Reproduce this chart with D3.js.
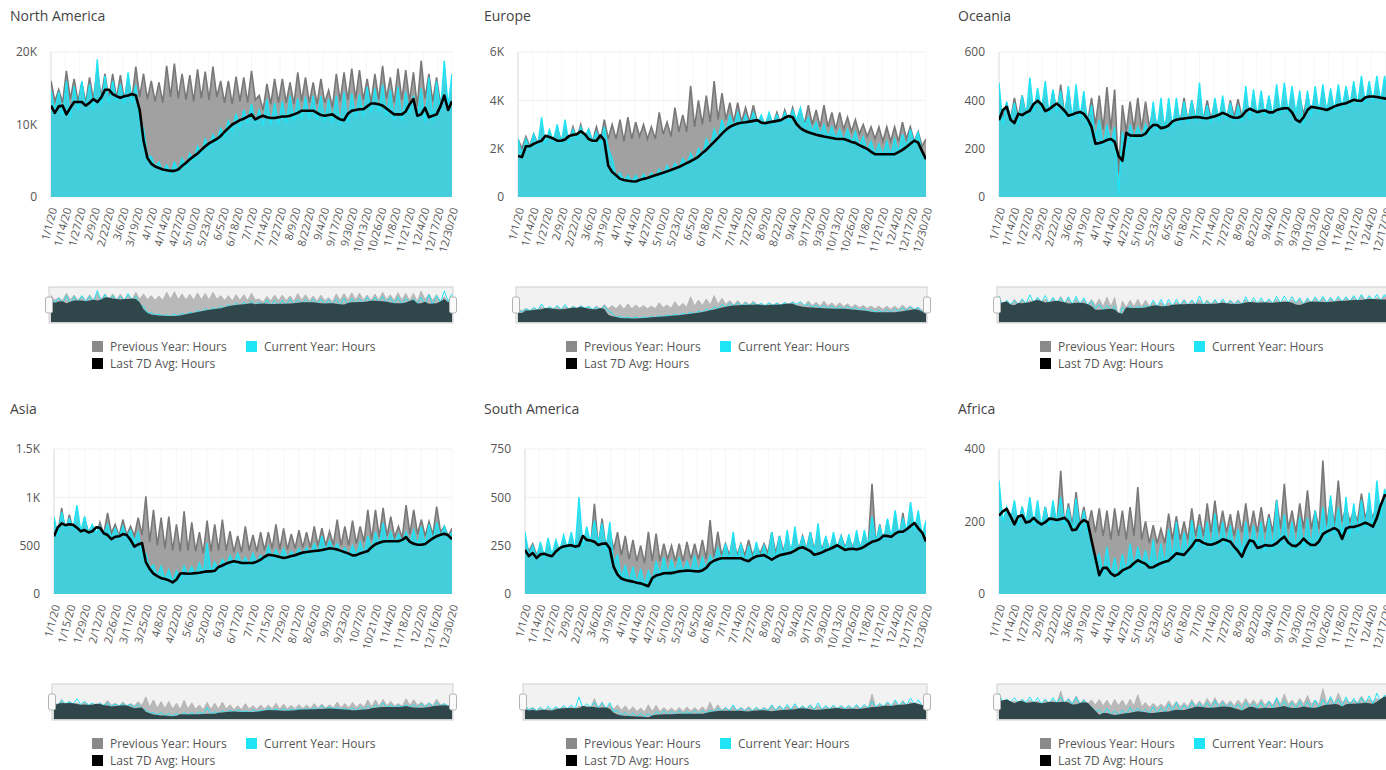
<!DOCTYPE html>
<html>
<head>
<meta charset="utf-8">
<script src="https://cdnjs.cloudflare.com/ajax/libs/d3/7.8.5/d3.min.js"></script>
<style>
  body { margin: 0; background: #fff; overflow: hidden; }
  svg { display: block; font-family: "Open Sans", sans-serif; }
</style>
</head>
<body>
<script>
// category labels shown on the x axis (every 13th / 14th day)
const ticks13 = ["1/1/20","1/14/20","1/27/20","2/9/20","2/22/20","3/6/20","3/19/20","4/1/20","4/14/20","4/27/20",
  "5/10/20","5/23/20","6/5/20","6/18/20","7/1/20","7/14/20","7/27/20","8/9/20","8/22/20","9/4/20","9/17/20",
  "9/30/20","10/13/20","10/26/20","11/8/20","11/21/20","12/4/20","12/17/20","12/30/20"];
const ticks14 = ["1/1/20","1/15/20","1/29/20","2/12/20","2/26/20","3/11/20","3/25/20","4/8/20","4/22/20","5/6/20",
  "5/20/20","6/3/20","6/17/20","7/1/20","7/15/20","7/29/20","8/12/20","8/26/20","9/9/20","9/23/20","10/7/20",
  "10/21/20","11/4/20","11/18/20","12/2/20","12/16/20","12/30/20"];

const legendLabels = ["Previous Year: Hours", "Current Year: Hours", "Last 7D Avg: Hours"];

// All series are read every 3.5 days (day 0 .. 364).
// Previous / current year alternate weekly high and trough.

// North America, in thousands of hours
const naPrev = [
  16.0,13.2, 14.8,13.0, 17.4,13.5, 16.3,13.2,  15.8,13.0, 16.5,13.4, 17.7,13.8, 17.0,13.5,
  17.0,13.6, 16.8,13.4, 16.5,13.5, 18.0,13.8,  17.0,13.5, 16.0,13.2, 15.8,13.0, 18.1,13.8,
  18.4,13.6, 17.0,13.4, 16.8,13.2, 17.6,13.6,  17.3,13.4, 18.0,13.8, 16.0,13.0, 16.0,12.8,
  16.6,13.2, 16.5,13.0, 17.4,13.4, 14.0,12.0,  15.6,12.8, 16.3,13.0, 16.3,13.0, 15.8,12.8,
  17.2,13.2, 16.5,13.0, 15.8,12.8, 16.3,13.0,  14.7,12.4, 17.0,13.2, 17.2,13.4, 17.7,13.5,
  17.5,13.4, 16.3,13.0, 17.0,13.4, 18.1,13.6,  16.5,13.0, 17.7,13.4, 17.5,13.2, 17.2,12.5,
  18.8,13.6, 17.0,13.2, 16.5,12.8, 15.5,12.0,  14.0];
const naCur = [
  14.7,11.8, 14.5,11.2, 16.0,11.0, 15.3,12.0,  16.0,12.2, 15.6,12.0, 19.0,12.5, 16.7,13.0,
  16.0,13.2, 15.6,12.9, 17.2,13.0, 15.5,10.5,  9.5,5.6, 5.6,4.1, 4.8,3.5, 4.4,3.3,
  4.8,3.6, 5.3,4.2, 6.0,5.0, 7.0,5.9,  8.0,6.7, 8.6,7.6, 9.5,8.4, 10.5,9.1,
  11.5,9.6, 12.0,10.2, 12.8,10.2, 12.0,9.9,  13.5,10.0, 13.0,10.0, 13.2,10.2, 14.0,10.5,
  13.6,10.8, 13.8,10.9, 14.0,10.7, 13.9,10.4,  13.5,10.2, 14.0,9.9, 14.5,10.2, 14.3,11.0,
  14.2,11.2, 15.2,11.6, 15.0,11.7, 15.5,11.2,  14.8,10.6, 15.2,10.5, 14.5,11.5, 14.0,11.0,
  15.0,10.3, 16.5,10.5, 16.0,11.8, 18.8,12.5,  17.0];
const naAvg = [
  12.6, 11.6, 12.5, 12.6, 11.4, 12.3, 13.1, 13.1,  13.1, 12.6, 13.0, 13.5, 13.1, 13.7, 14.8, 14.8,
  14.2, 13.9, 13.7, 13.9, 14.0, 14.2, 14.0, 12.0,  7.8, 5.4, 4.6, 4.2, 4.0, 3.8, 3.7, 3.6,
  3.6, 3.8, 4.3, 4.7, 5.2, 5.6, 6.0, 6.5,  7.0, 7.4, 7.7, 8.0, 8.4, 9.0, 9.5, 10.0,
  10.3, 10.6, 10.8, 11.1, 11.4, 10.7, 11.0, 11.2,  11.0, 10.9, 10.9, 11.0, 11.1, 11.1, 11.2, 11.4,
  11.6, 11.9, 11.9, 11.9, 11.9, 11.6, 11.3, 11.2,  11.3, 11.4, 11.0, 10.7, 10.6, 11.5, 11.9, 12.0,
  12.1, 12.1, 12.5, 12.9, 12.9, 12.8, 12.6, 12.2,  11.8, 11.4, 11.4, 11.4, 11.8, 12.8, 13.5, 11.2,
  11.4, 12.3, 11.0, 11.2, 11.4, 12.5, 14.0, 12.0,  13.2];

// Europe, in thousands of hours
const euPrev = [
  2.4,2.0, 2.5,2.1, 2.6,2.2, 2.8,2.2,  2.7,2.3, 2.9,2.3, 2.8,2.3, 2.9,2.4,
  3.0,2.4, 2.8,2.3, 2.9,2.3, 3.2,2.4,  3.0,2.4, 3.2,2.3, 3.3,2.4, 3.1,2.5,
  3.0,2.4, 2.9,2.4, 3.5,2.6, 3.1,2.5,  3.7,2.7, 3.4,2.7, 4.6,2.9, 4.0,3.0,
  4.2,3.1, 4.8,3.2, 4.3,3.2, 3.9,3.1,  3.9,3.1, 3.7,3.1, 3.8,3.1, 3.3,3.0,
  3.4,3.0, 3.5,3.0, 3.6,3.1, 3.7,3.1,  3.6,3.0, 3.8,3.0, 3.6,2.9, 3.8,2.9,
  3.5,2.8, 3.5,2.8, 3.3,2.7, 3.2,2.6,  3.0,2.5, 2.9,2.4, 2.9,2.3, 2.9,2.3,
  2.9,2.3, 3.1,2.4, 2.9,2.3, 2.7,2.1,  2.4];
const euCur = [
  2.4,1.75, 2.4,2.0, 2.6,2.1, 3.3,2.2,  2.8,2.3, 3.0,2.2, 3.2,2.2, 2.8,2.4,
  2.9,2.5, 2.8,2.3, 2.7,2.2, 2.9,2.0,  1.6,0.85, 1.0,0.68, 0.9,0.62, 0.9,0.62,
  0.95,0.7, 1.0,0.8, 1.15,0.9, 1.3,1.0,  1.4,1.15, 1.6,1.3, 1.8,1.45, 2.0,1.7,
  2.4,2.0, 2.8,2.35, 3.2,2.65, 3.4,2.85,  3.5,2.95, 3.4,3.0, 3.5,3.0, 3.4,2.95,
  3.5,3.0, 3.4,3.05, 3.5,3.1, 3.6,3.2,  3.7,2.95, 3.3,2.7, 3.1,2.55, 3.0,2.45,
  2.9,2.4, 2.8,2.3, 2.8,2.25, 2.7,2.1,  2.5,1.9, 2.3,1.75, 2.2,1.7, 2.3,1.72,
  2.4,1.85, 2.6,2.05, 2.8,2.2, 2.7,1.8,  1.6];
const euAvg = [
  1.70, 1.65, 2.10, 2.10, 2.20, 2.27, 2.33, 2.53,  2.48, 2.42, 2.33, 2.33, 2.38, 2.52, 2.57, 2.60,
  2.72, 2.60, 2.40, 2.33, 2.33, 2.55, 2.35, 1.30,  1.03, 0.90, 0.75, 0.70, 0.67, 0.65, 0.64, 0.70,
  0.75, 0.79, 0.85, 0.90, 0.95, 1.00, 1.06, 1.12,  1.18, 1.24, 1.32, 1.40, 1.48, 1.57, 1.67, 1.82,
  1.95, 2.12, 2.28, 2.45, 2.62, 2.78, 2.90, 2.98,  3.04, 3.07, 3.09, 3.12, 3.15, 3.18, 3.08, 3.05,
  3.09, 3.12, 3.15, 3.18, 3.28, 3.35, 3.30, 3.02,  2.85, 2.75, 2.68, 2.63, 2.58, 2.54, 2.50, 2.47,
  2.44, 2.41, 2.40, 2.40, 2.35, 2.28, 2.24, 2.15,  2.07, 1.99, 1.87, 1.77, 1.77, 1.77, 1.77, 1.77,
  1.77, 1.86, 1.95, 2.07, 2.20, 2.33, 2.25, 1.90,  1.56];

// Oceania, hours
const ocPrev = [
  400,330, 390,320, 410,330, 420,340,  400,340, 430,350, 420,340, 440,340,
  465,340, 440,320, 425,320, 410,310,  410,300, 420,280, 455,280, 445,100,
  381,270, 395,280, 410,280, 395,290,  360,290, 360,290, 355,300, 370,310,
  410,310, 400,320, 405,320, 400,320,  395,320, 390,320, 400,330, 405,330,
  410,330, 400,320, 395,330, 410,330,  420,340, 400,330, 410,340, 415,340,
  425,340, 430,340, 440,350, 430,350,  440,350, 450,360, 460,360, 480,370,
  460,370, 450,380, 470,380, 450,370,  420];
const ocCur = [
  473,300, 395,320, 390,300, 420,330,  494,350, 452,360, 480,340, 445,350,
  440,330, 459,320, 466,325, 438,300,  380,240, 320,210, 300,220, 290,15,
  270,190, 300,240, 290,245, 300,260,  395,275, 410,270, 410,285, 410,300,
  395,305, 400,310, 473,310, 380,305,  410,310, 420,320, 390,310, 380,310,
  459,320, 445,335, 440,335, 420,335,  466,345, 473,350, 459,345, 440,300,
  440,335, 459,350, 466,350, 450,355,  466,365, 459,375, 480,380, 501,385,
  480,395, 501,395, 501,390, 490,385,  470];
const ocAvg = [
  318, 360, 373, 320, 306, 344, 339, 349,  357, 385, 398, 384, 355, 363, 376, 387,
  373, 357, 336, 341, 348, 352, 344, 322,  290, 221, 223, 228, 236, 240, 228, 170,
  150, 266, 255, 254, 254, 254, 262, 284,  298, 298, 285, 288, 296, 313, 320, 323,
  325, 327, 329, 331, 330, 327, 326, 330,  334, 340, 348, 342, 333, 328, 328, 335,
  355, 365, 358, 351, 356, 358, 350, 350,  360, 364, 367, 367, 350, 320, 311, 330,
  360, 373, 370, 367, 364, 360, 367, 375,  381, 385, 388, 395, 402, 398, 398, 412,
  416, 416, 414, 411, 408, 406, 405, 405,  405];

// Asia, hours
const asPrev = [
  760,620, 890,640, 820,660, 740,620,  780,640, 700,600, 740,620, 840,630,
  720,600, 770,610, 700,600, 790,610,  1010,540, 870,500, 790,470, 800,450,
  720,440, 855,450, 740,440, 640,420,  760,440, 720,450, 770,450, 650,430,
  600,430, 700,450, 610,440, 640,450,  640,470, 720,460, 680,460, 620,470,
  660,480, 640,480, 700,500, 680,500,  650,510, 770,500, 700,500, 760,520,
  700,540, 870,560, 870,590, 890,600,  800,590, 700,580, 920,620, 870,620,
  770,600, 750,610, 905,640, 700,600,  680];
const asCur = [
  800,600, 850,680, 780,680, 920,650,  800,630, 720,630, 700,620, 720,580,
  680,580, 700,580, 660,540, 640,420,  420,260, 300,180, 286,145, 250,125,
  240,150, 290,195, 280,200, 320,210,  527,220, 330,250, 360,290, 400,310,
  420,310, 380,300, 420,320, 400,350,  490,380, 460,370, 470,370, 440,390,
  470,400, 480,410, 520,420, 600,440,  550,450, 520,430, 480,390, 500,390,
  540,410, 600,450, 640,500, 735,520,  640,520, 620,540, 640,530, 660,490,
  700,500, 720,550, 740,590, 700,580,  640];
const asAvg = [
  597, 690, 730, 712, 722, 715, 686, 648,  661, 637, 648, 690, 686, 628, 610, 567,
  592, 597, 620, 610, 560, 490, 513, 527,  330, 260, 210, 185, 164, 155, 141, 120,
  150, 212, 213, 210, 212, 216, 220, 227,  234, 234, 240, 280, 295, 315, 328, 338,
  330, 322, 320, 320, 320, 335, 355, 385,  406, 400, 393, 383, 373, 380, 392, 401,
  417, 428, 434, 440, 445, 449, 455, 464,  473, 468, 460, 446, 433, 418, 399, 402,
  420, 432, 445, 485, 515, 531, 543, 545,  545, 545, 545, 560, 588, 540, 520, 510,
  510, 518, 548, 575, 598, 612, 623, 607,  567];

// South America, hours
const saPrev = [
  280,220, 260,200, 250,200, 240,200,  260,210, 270,220, 280,230, 300,230,
  290,240, 467,250, 390,240, 330,230,  320,200, 300,180, 280,170, 250,160,
  322,170, 313,170, 260,180, 250,170,  260,170, 270,180, 260,180, 280,180,
  382,190, 322,200, 260,200, 290,200,  260,200, 280,200, 250,210, 260,210,
  320,210, 300,220, 290,220, 310,230,  300,230, 320,230, 300,230, 290,230,
  290,240, 300,240, 290,240, 300,240,  300,250, 570,260, 360,260, 380,270,
  400,280, 420,290, 400,290, 360,280,  320];
const saCur = [
  322,200, 250,185, 270,185, 290,200,  280,220, 305,235, 320,230, 502,245,
  348,265, 380,255, 365,230, 373,160,  200,80, 150,60, 140,52, 130,42,
  120,60, 170,95, 190,100, 180,105,  190,110, 170,112, 200,110, 190,130,
  200,160, 240,170, 260,175, 322,175,  260,170, 250,175, 270,185, 250,180,
  320,180, 300,195, 330,210, 348,220,  300,220, 320,210, 365,205, 300,220,
  320,230, 300,225, 310,220, 330,225,  330,245, 400,265, 350,280, 390,295,
  433,305, 390,325, 476,330, 433,300,  380];
const saAvg = [
  228, 196, 212, 186, 205, 208, 200, 195,  220, 237, 246, 250, 252, 245, 250, 300,
  280, 277, 270, 253, 260, 262, 235, 140,  100, 80, 72, 68, 64, 58, 55, 48,
  40, 82, 96, 101, 107, 108, 108, 113,  117, 119, 121, 120, 118, 117, 122, 135,
  160, 172, 180, 185, 185, 185, 185, 185,  185, 176, 170, 185, 195, 198, 201, 190,
  177, 190, 200, 205, 210, 214, 224, 237,  242, 232, 222, 203, 208, 215, 225, 232,
  242, 252, 240, 228, 233, 234, 230, 235,  245, 258, 270, 275, 284, 302, 300, 296,
  312, 322, 322, 335, 352, 367, 340, 318,  272];

// Africa, hours
const afPrev = [
  210,190, 230,190, 220,185, 240,190,  230,190, 220,185, 240,190, 230,190,
  340,190, 250,190, 281,190, 240,185,  231,170, 236,160, 230,150, 236,160,
  230,150, 240,160, 295,150, 200,140,  190,140, 180,140, 222,150, 215,150,
  200,150, 236,160, 220,160, 250,170,  258,170, 230,170, 220,160, 230,170,
  250,170, 230,170, 240,170, 220,170,  260,180, 304,180, 230,170, 250,180,
  286,180, 230,180, 368,190, 260,190,  313,200, 240,200, 230,200, 277,210,
  240,210, 250,210, 260,220, 280,230,  260];
const afCur = [
  313,200, 240,205, 258,190, 240,200,  267,190, 258,185, 240,185, 258,195,
  267,190, 240,175, 263,175, 230,170,  150,90, 110,55, 130,50, 100,45,
  110,58, 140,70, 130,78, 120,72,  150,70, 140,78, 180,90, 200,100,
  170,110, 204,125, 190,130, 200,125,  222,130, 200,135, 190,120, 180,110,
  200,125, 190,130, 200,118, 210,120,  258,135, 220,130, 200,120, 213,125,
  210,125, 230,135, 240,155, 272,165,  240,160, 268,160, 250,170, 260,180,
  280,180, 313,210, 290,250, 300,245,  280];
const afAvg = [
  216, 228, 235, 214, 192, 214, 217, 197,  200, 210, 199, 192, 198, 208, 207, 204,
  207, 210, 200, 176, 178, 195, 204, 198,  148, 100, 52, 72, 72, 57, 50, 55,
  65, 70, 75, 85, 93, 88, 83, 73,  74, 80, 85, 89, 92, 102, 112, 110,
  108, 120, 132, 148, 148, 141, 137, 136,  139, 144, 151, 148, 144, 130, 118, 103,
  128, 148, 145, 127, 130, 135, 133, 134,  140, 150, 158, 142, 134, 132, 140, 153,
  142, 135, 135, 145, 165, 172, 177, 182,  175, 152, 180, 185, 185, 188, 192, 197,
  192, 186, 210, 245, 272, 270, 265, 260,  255];

const panels = [
  { title: "North America", col: 0, row: 0, unit: 1000, yMax: 20000, yTicks: [0, 10000, 20000], xLabels: ticks13, prev: naPrev, cur: naCur, avg: naAvg },
  { title: "Europe",        col: 1, row: 0, unit: 1000, yMax: 6000,  yTicks: [0, 2000, 4000, 6000], xLabels: ticks13, prev: euPrev, cur: euCur, avg: euAvg },
  { title: "Oceania",       col: 2, row: 0, unit: 1,    yMax: 600,   yTicks: [0, 200, 400, 600], xLabels: ticks13, prev: ocPrev, cur: ocCur, avg: ocAvg },
  { title: "Asia",          col: 0, row: 1, unit: 1,    yMax: 1500,  yTicks: [0, 500, 1000, 1500], xLabels: ticks14, prev: asPrev, cur: asCur, avg: asAvg },
  { title: "South America", col: 1, row: 1, unit: 1,    yMax: 750,   yTicks: [0, 250, 500, 750], xLabels: ticks13, prev: saPrev, cur: saCur, avg: saAvg },
  { title: "Africa",        col: 2, row: 1, unit: 1,    yMax: 400,   yTicks: [0, 200, 400], xLabels: ticks13, prev: afPrev, cur: afCur, avg: afAvg }
];

// layout
const COL_W = 474, ROW_H = 397;
const PLOT_TOP = 52, PLOT_BOTTOM = 197, PLOT_RIGHT = 452;
const SB_TOP = 287, SB_BOTTOM = 323;
const STEP = 3.5;   // days between two readings
const FONT = "'Open Sans', sans-serif";

const colors = {
  prevFill: "#a1a1a1", prevLine: "#787878",
  curFill: "#3dd2e1", curLine: "#1fe4f5",
  avg: "#000", legendPrev: "#8a8a8a", legendCur: "#1fe4f5",
  sbBack: "#f2f2f2", sbPrev: "#b9b9b9", sbAvg: "#2f474b"
};

const svg = d3.select("body").append("svg").attr("width", 1386).attr("height", 770);

const yearStart = new Date(2020, 0, 1);
const parseDay = d3.timeParse("%m/%d/%y");
const dayOf = s => d3.timeDay.count(yearStart, parseDay(s));
const fmtY = v => v >= 1000 ? (v / 1000) + "K" : String(v);

panels.forEach((p, k) => {
  const ox = p.col * COL_W, oy = p.row * ROW_H;
  const g = svg.append("g").attr("transform", `translate(${ox},${oy})`);

  // title
  g.append("text")
    .attr("x", 10).attr("y", 21 - p.row * 4)
    .attr("font-family", FONT).attr("font-size", 14).attr("fill", "#444")
    .text(p.title);

  // y axis, measured first so the plot starts right after the labels
  const y = d3.scaleLinear().domain([0, p.yMax]).range([PLOT_BOTTOM, PLOT_TOP]);
  const yAxis = g.append("g")
    .call(d3.axisLeft(y).tickValues(p.yTicks).tickFormat(fmtY).tickSize(0).tickPadding(0))
    .attr("font-family", FONT).attr("font-size", 12);
  yAxis.select(".domain").remove();
  yAxis.selectAll("text").attr("fill", "#555");
  const labelW = d3.max(yAxis.selectAll("text").nodes(), n => n.getComputedTextLength());
  const left = Math.round(30 + labelW);
  yAxis.attr("transform", `translate(${left - 14},0)`);

  const x = d3.scaleLinear().domain([0, 364]).range([left, PLOT_RIGHT]);
  const tickDays = p.xLabels.map(dayOf);
  const labelByDay = new Map(tickDays.map((d, i) => [d, p.xLabels[i]]));

  // grid
  const grid = g.append("g");
  grid.selectAll("line.h").data(p.yTicks.filter(t => t > 0)).join("line")
    .attr("class", "h")
    .attr("x1", left).attr("x2", PLOT_RIGHT)
    .attr("y1", d => y(d)).attr("y2", d => y(d))
    .attr("stroke", "#000").attr("stroke-opacity", 0.06);
  grid.selectAll("line.v").data(tickDays).join("line")
    .attr("class", "v")
    .attr("x1", d => x(d)).attr("x2", d => x(d))
    .attr("y1", PLOT_TOP).attr("y2", PLOT_BOTTOM)
    .attr("stroke", "#000").attr("stroke-opacity", 0.035);
  grid.append("line")
    .attr("x1", left).attr("x2", left).attr("y1", PLOT_TOP).attr("y2", PLOT_BOTTOM)
    .attr("stroke", "#000").attr("stroke-opacity", 0.12);

  // series points
  const toPts = arr => arr.map((v, i) => ({ d: i * STEP, v: v * p.unit }));
  const prevPts = toPts(p.prev);
  const curPts = toPts(p.cur);
  const avgPts = toPts(p.avg);

  const clipId = "plotclip" + k;
  g.append("clipPath").attr("id", clipId)
    .append("rect")
    .attr("x", left).attr("y", PLOT_TOP - 6)
    .attr("width", PLOT_RIGHT - left).attr("height", PLOT_BOTTOM - PLOT_TOP + 6);
  const layer = g.append("g").attr("clip-path", `url(#${clipId})`);

  const area = d3.area().x(d => x(d.d)).y0(PLOT_BOTTOM).y1(d => y(d.v));
  const line = d3.line().x(d => x(d.d)).y(d => y(d.v));

  layer.append("path").datum(prevPts).attr("d", area).attr("fill", colors.prevFill);
  layer.append("path").datum(prevPts).attr("d", line)
    .attr("fill", "none").attr("stroke", colors.prevLine).attr("stroke-width", 1.6);
  layer.append("path").datum(curPts).attr("d", area)
    .attr("fill", colors.curFill).attr("fill-opacity", 0.93);
  layer.append("path").datum(curPts).attr("d", line)
    .attr("fill", "none").attr("stroke", colors.curLine).attr("stroke-width", 1.4);
  layer.append("path").datum(avgPts).attr("d", line)
    .attr("fill", "none").attr("stroke", colors.avg).attr("stroke-width", 2.6)
    .attr("stroke-linejoin", "round");

  // x axis, rotated category labels
  const xAxis = g.append("g")
    .attr("transform", `translate(0,${PLOT_BOTTOM})`)
    .call(d3.axisBottom(x).tickValues(tickDays).tickFormat(d => labelByDay.get(d)).tickSize(0).tickPadding(0))
    .attr("font-family", FONT).attr("font-size", 11);
  xAxis.select(".domain").remove();
  xAxis.selectAll("text")
    .attr("fill", "#555")
    .attr("text-anchor", "end")
    .attr("y", 0).attr("dy", "0.35em")
    .attr("transform", "translate(2,11) rotate(-75)");

  // scrollbar preview
  const sy = d3.scaleLinear().domain([0, p.yMax]).range([SB_BOTTOM - 1, SB_TOP + 2]);
  const sb = g.append("g");
  sb.append("rect")
    .attr("x", left - 2).attr("y", SB_TOP)
    .attr("width", PLOT_RIGHT - left + 3).attr("height", SB_BOTTOM - SB_TOP)
    .attr("fill", colors.sbBack).attr("stroke", "#d0d0d0");
  const sArea = d3.area().x(d => x(d.d)).y0(SB_BOTTOM - 1).y1(d => sy(d.v));
  const sLine = d3.line().x(d => x(d.d)).y(d => sy(d.v));
  sb.append("path").datum(prevPts).attr("d", sArea)
    .attr("fill", colors.sbPrev).attr("stroke", "#a4a4a4").attr("stroke-width", 0.6);
  sb.append("path").datum(curPts).attr("d", sLine)
    .attr("fill", "none").attr("stroke", colors.curLine).attr("stroke-width", 1);
  sb.append("path").datum(avgPts).attr("d", sArea).attr("fill", colors.sbAvg);
  [left - 2, PLOT_RIGHT + 1].forEach(gx => {
    sb.append("rect")
      .attr("x", gx - 3.5).attr("y", SB_TOP + 10).attr("width", 7).attr("height", 16).attr("rx", 2)
      .attr("fill", "#fafafa").attr("stroke", "#b3b3b3");
  });

  // legend
  const legendItems = [
    { label: legendLabels[0], color: colors.legendPrev, x: 92, y: 341 },
    { label: legendLabels[1], color: colors.legendCur, x: 246, y: 341 },
    { label: legendLabels[2], color: colors.avg, x: 92, y: 358 }
  ];
  const legend = g.append("g").attr("font-family", FONT).attr("font-size", 12);
  legendItems.forEach(it => {
    legend.append("rect").attr("x", it.x).attr("y", it.y).attr("width", 11).attr("height", 11).attr("fill", it.color);
    legend.append("text").attr("x", it.x + 18).attr("y", it.y + 10).attr("fill", "#555").text(it.label);
  });
});
</script>
</body>
</html>
